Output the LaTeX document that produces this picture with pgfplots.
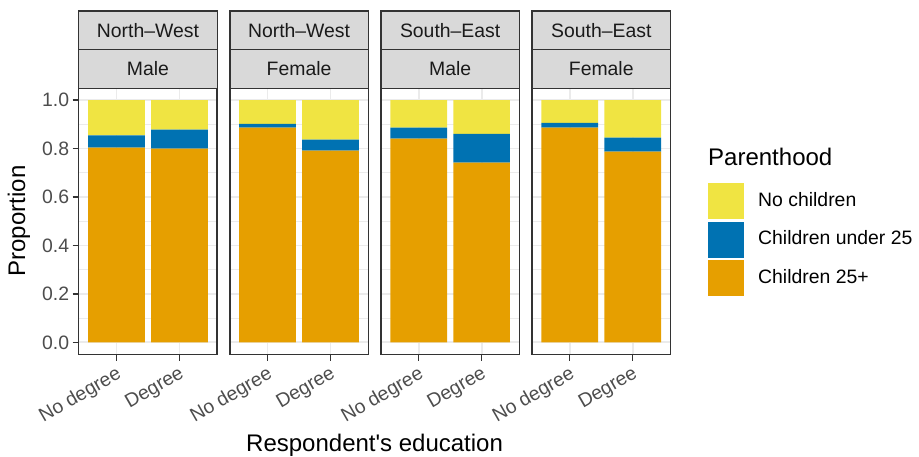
\documentclass[border=0pt]{standalone}
\usepackage{pgfplots}
\usepackage{pgfplotstable}
\pgfplotsset{compat=1.18}
\usepackage{fontspec}
\setmainfont{Liberation Sans}
\definecolor{cOrange}{HTML}{E69F00}
\definecolor{cBlue}{HTML}{0072B2}
\definecolor{cYellow}{HTML}{F0E442}
\definecolor{gridc}{HTML}{EBEBEB}
\definecolor{borderc}{HTML}{333333}
\definecolor{tickc}{HTML}{4D4D4D}
\definecolor{stripc}{HTML}{D9D9D9}
\definecolor{striptext}{HTML}{1A1A1A}
\newcommand{\smallf}{\fontsize{19.4}{23}\selectfont}
\newcommand{\bigf}{\fontsize{24}{28}\selectfont}

\pgfplotstableread{
x o b y
1 0.804 0.050 0.146
2 0.800 0.078 0.122
}\dNWM
\pgfplotstableread{
x o b y
1 0.886 0.016 0.098
2 0.791 0.046 0.163
}\dNWF
\pgfplotstableread{
x o b y
1 0.841 0.045 0.114
2 0.742 0.119 0.139
}\dSEM
\pgfplotstableread{
x o b y
1 0.886 0.020 0.094
2 0.787 0.058 0.155
}\dSEF

\pgfplotsset{
  panel/.style={
    scale only axis, width=138.5pt, height=266.5pt, anchor=south west,
    xmin=0.4, xmax=2.6, ymin=-0.05, ymax=1.05,
    ybar stacked, bar width=0.9,
    xtick={1,2}, xticklabels={No degree,Degree},
    ytick={0,0.2,0.4,0.6,0.8,1.0}, minor ytick={0.1,0.3,0.5,0.7,0.9},
    xmajorgrids, ymajorgrids, yminorgrids,
    major grid style={draw=gridc, line width=1.8pt},
    minor grid style={draw=gridc, line width=0.9pt},
    axis line style={draw=borderc, line width=1.4pt},
    tick align=outside, major tick length=6pt, minor tick length=0pt,
    tick pos=left,
    every tick/.style={draw=borderc, line width=1.4pt},
    tick label style={text=tickc, font=\smallf},
    xticklabel style={rotate=30, anchor=north east},
    yticklabel style={/pgf/number format/.cd, fixed, fixed zerofill, precision=1},
    /pgf/number format/assume math mode=true,
  },
  inner/.style={yticklabels={}, ytick style={draw=none}},
  keyimg/.style={legend image code/.code={\fill[##1] (0pt,-19pt) rectangle (36pt,17pt);}},
}

\begin{document}
\begin{tikzpicture}
\path[use as bounding box] (0,0) rectangle (919pt,456pt);

\begin{axis}[panel, at={(78.7pt,101.5pt)}]
\addplot[fill=cOrange, draw=none] table[x=x,y=o]{\dNWM};
\addplot[fill=cBlue, draw=none] table[x=x,y=b]{\dNWM};
\addplot[fill=cYellow, draw=none] table[x=x,y=y]{\dNWM};
\end{axis}

\begin{axis}[panel, inner, at={(229.8pt,101.5pt)}]
\addplot[fill=cOrange, draw=none] table[x=x,y=o]{\dNWF};
\addplot[fill=cBlue, draw=none] table[x=x,y=b]{\dNWF};
\addplot[fill=cYellow, draw=none] table[x=x,y=y]{\dNWF};
\end{axis}

\begin{axis}[panel, inner, at={(380.9pt,101.5pt)}]
\addplot[fill=cOrange, draw=none] table[x=x,y=o]{\dSEM};
\addplot[fill=cBlue, draw=none] table[x=x,y=b]{\dSEM};
\addplot[fill=cYellow, draw=none] table[x=x,y=y]{\dSEM};
\end{axis}

\begin{axis}[panel, inner, at={(532.0pt,101.5pt)},
  legend style={at={(axis description cs:1.2491,0.6510)}, anchor=north west,
    draw=none, fill=none, font=\smallf, row sep=2.5pt, nodes={inner sep=0pt},
    /tikz/every odd column/.append style={column sep=14pt}},
  reverse legend, legend cell align=left]
\addplot[fill=cOrange, draw=none, keyimg] table[x=x,y=o]{\dSEF};
\addlegendentry{Children 25+}
\addplot[fill=cBlue, draw=none, keyimg] table[x=x,y=b]{\dSEF};
\addlegendentry{Children under 25}
\addplot[fill=cYellow, draw=none, keyimg] table[x=x,y=y]{\dSEF};
\addlegendentry{No children}
\end{axis}

\foreach \xl/\ta/\tb in {78.7/North\textendash West/Male, 229.8/North\textendash West/Female, 380.9/South\textendash East/Male, 532.0/South\textendash East/Female} {
  \draw[fill=stripc, draw=borderc, line width=1.4pt] (\xl pt,367.7pt) rectangle ++(138.5pt,38.6pt);
  \draw[fill=stripc, draw=borderc, line width=1.4pt] (\xl pt,406.3pt) rectangle ++(138.5pt,38.7pt);
  \node[text=striptext, font=\smallf] at (\xl pt+69.25pt,425.65pt) {\ta};
  \node[text=striptext, font=\smallf] at (\xl pt+69.25pt,387pt) {\tb};
}

\node[rotate=90, font=\bigf, anchor=center] at (19pt,235pt) {Proportion};
\node[font=\bigf, anchor=base] at (374.6pt,4.5pt) {Respondent\textquotesingle s education};
\node[font=\bigf, anchor=base west, inner sep=0pt] at (708pt,290pt) {Parenthood};
\end{tikzpicture}
\end{document}
